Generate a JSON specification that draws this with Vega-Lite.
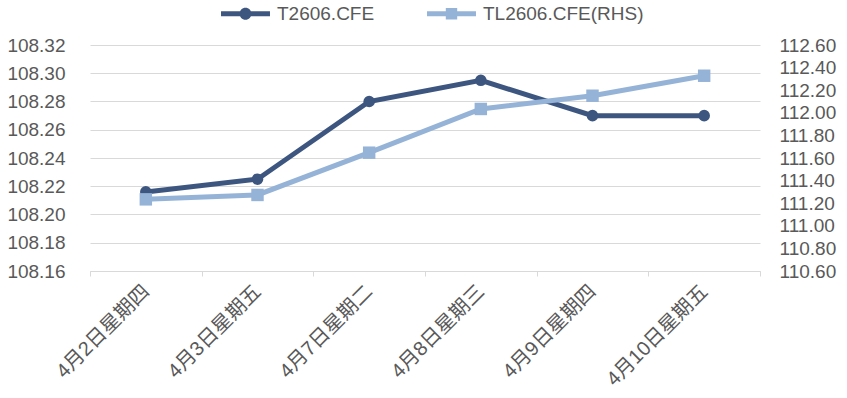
{
  "$schema": "https://vega.github.io/schema/vega-lite/v6.json",
  "autosize": "none",
  "width": 670,
  "height": 226,
  "padding": {"left": 90, "top": 45, "right": 87, "bottom": 127},
  "background": "white",
  "config": {
    "font": "Liberation Sans, Noto Sans CJK SC",
    "view": {"stroke": null},
    "axis": {"labelColor": "#595959", "labelFont": "Liberation Sans, Noto Sans CJK SC"}
  },
  "data": {
    "values": [
      {"date": "4月2日星期四", "T": 108.216, "TL": 111.234},
      {"date": "4月3日星期五", "T": 108.225, "TL": 111.273},
      {"date": "4月7日星期二", "T": 108.280, "TL": 111.647},
      {"date": "4月8日星期三", "T": 108.295, "TL": 112.034},
      {"date": "4月9日星期四", "T": 108.270, "TL": 112.151},
      {"date": "4月10日星期五", "T": 108.270, "TL": 112.328}
    ]
  },
  "encoding": {
    "x": {
      "field": "date",
      "type": "ordinal",
      "sort": null,
      "bandPosition": 0.5,
      "scale": {"type": "band", "paddingInner": 0, "paddingOuter": 0},
      "axis": {
        "title": null,
        "tickBand": "extent",
        "labelAngle": -45,
        "labelAlign": "right",
        "labelBaseline": "middle",
        "labelFontSize": 20,
        "labelPadding": 12,
        "labelLimit": 300,
        "domainColor": "#d9d9d9",
        "tickColor": "#d9d9d9",
        "tickSize": 5,
        "grid": false
      }
    }
  },
  "layer": [
    {
      "layer": [
        {"mark": {"type": "line", "color": "#3d5680", "strokeWidth": 5}},
        {
          "mark": {"type": "point", "shape": "circle", "filled": true, "size": 135, "opacity": 1},
          "encoding": {
            "color": {
              "datum": "T2606.CFE",
              "type": "nominal",
              "scale": {"domain": ["T2606.CFE", "TL2606.CFE(RHS)"], "range": ["#3d5680", "#95b3d7"]},
              "legend": {
                "orient": "none",
                "legendX": 146,
                "legendY": -41,
                "direction": "horizontal",
                "title": null,
                "labelFontSize": 19,
                "labelColor": "#595959",
                "labelLimit": 400,
                "symbolSize": 144,
                "symbolStrokeWidth": 0,
                "symbolOpacity": 1,
                "labelOffset": 22,
                "columnPadding": 52,
                "padding": 0,
                "encode": {
                  "symbols": {
                    "update": {
                      "shape": {"signal": "datum.value === 'T2606.CFE' ? 'M-4.08,-0.42H4.08V0.42H-4.08Z M1,0A1,1 0 1,1 -1,0A1,1 0 1,1 1,0Z' : 'M-4.08,-0.42H4.08V0.42H-4.08Z M-0.95,-0.95H0.95V0.95H-0.95Z'"}
                    }
                  }
                }
              }
            }
          }
        }
      ],
      "encoding": {
        "y": {
          "field": "T",
          "type": "quantitative",
          "scale": {"domain": [108.16, 108.32], "nice": false, "zero": false},
          "axis": {
            "title": null,
            "values": [108.16, 108.18, 108.2, 108.22, 108.24, 108.26, 108.28, 108.3, 108.32],
            "format": ".2f",
            "labelFontSize": 19,
            "labelPadding": 25,
            "ticks": false,
            "domain": false,
            "grid": true,
            "gridColor": "#d9d9d9",
            "gridWidth": 1
          }
        }
      }
    },
    {
      "layer": [
        {"mark": {"type": "line", "color": "#95b3d7", "strokeWidth": 5}},
        {
          "mark": {"type": "point", "shape": "square", "filled": true, "size": 155, "opacity": 1},
          "encoding": {"color": {"datum": "TL2606.CFE(RHS)", "type": "nominal"}}
        }
      ],
      "encoding": {
        "y": {
          "field": "TL",
          "type": "quantitative",
          "scale": {"domain": [110.6, 112.6], "nice": false, "zero": false},
          "axis": {
            "title": null,
            "orient": "right",
            "values": [110.6, 110.8, 111.0, 111.2, 111.4, 111.6, 111.8, 112.0, 112.2, 112.4, 112.6],
            "format": ".2f",
            "labelFontSize": 19,
            "labelPadding": 19,
            "ticks": false,
            "domain": false,
            "grid": false
          }
        }
      }
    }
  ],
  "resolve": {"scale": {"y": "independent"}}
}
